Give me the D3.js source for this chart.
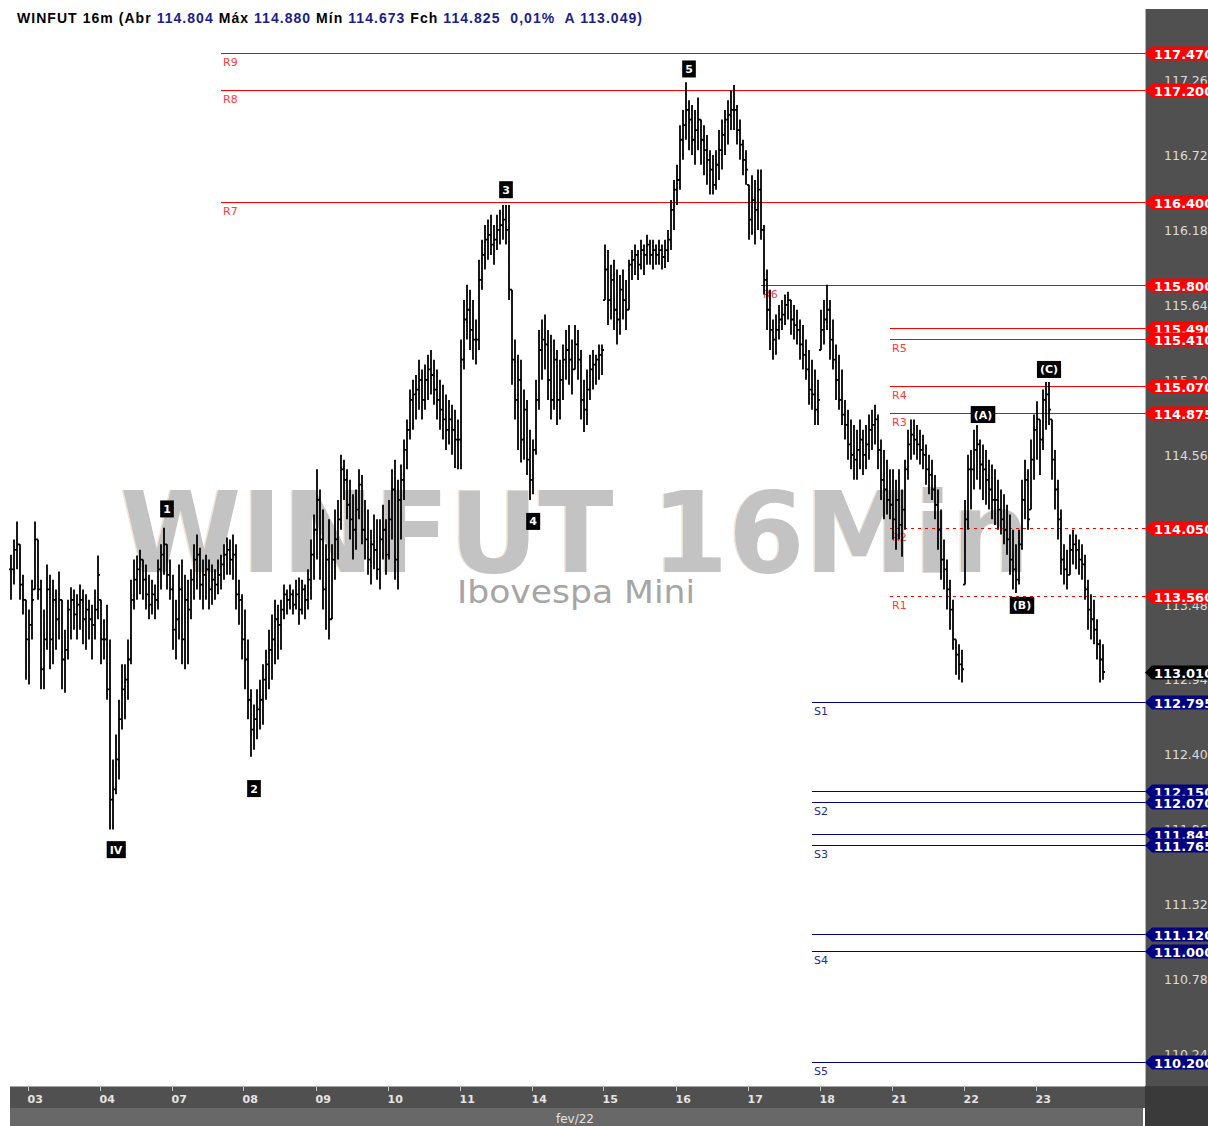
<!DOCTYPE html>
<html>
<head>
<meta charset="utf-8">
<script src="https://cdn.jsdelivr.net/npm/d3@7"></script>
<style>
  body { margin: 0; background: #fff; }
  svg { display: block; }
</style>
</head>
<body>
<div id="chart"></div>
<script>
// 16 minute bars, one array per session: [high, low, close] in points
var d02 = [[113855,113530,113750],[113965,113640,113890],[114095,113750,113930],[113930,113530,113640],[113710,113425,113530],[113530,112955,113245]];
var d03 = [[113460,112920,113350],[113675,113245,113530],[114095,113605,113965],[113965,113530,113605],[113675,112885,113030],[113460,112885,113245],
  [113785,113170,113605],[113710,113030,113245],[113675,113065,113530],[113605,113170,113390],[113735,113245,113530],[113530,112885,113100],
  [113315,112860,113170],[113530,113100,113460],[113620,113245,113530],[113605,113315,113425],[113570,113245,113495],[113640,113315,113530],
  [113605,113210,113390],[113570,113170,113460],[113530,113245,113390],[113495,113100,113350],[113605,113245,113460],[113850,113390,113710]];
var d04 = [[113530,113065,113245],[113390,113100,113245],[113495,112810,112885],[113245,111875,112090],[112380,111875,112165],[112560,112130,112380],
  [112810,112235,112670],[113065,112595,112885],[113065,112670,112955],[113245,112810,113100],[113675,113065,113530],[113820,113460,113675],
  [113850,113530,113750],[113890,113570,113820],[113820,113530,113675],[113785,113460,113570],[113710,113390,113495],[113675,113425,113570],
  [113640,113390,113530],[113820,113460,113750],[113930,113605,113855],[114050,113710,113930],[113930,113605,113710],[113820,113530,113605]];
var d07 = [[113710,113170,113315],[113530,113100,113390],[113785,113245,113605],[113820,113065,113245],[113710,113030,113530],[113675,113065,113460],
  [113750,113390,113675],[113930,113530,113820],[114000,113605,113855],[113905,113530,113640],[113820,113460,113710],[113855,113530,113750],
  [113820,113460,113605],[113785,113495,113675],[113750,113530,113640],[113820,113570,113710],[113855,113605,113785],[113930,113675,113855],
  [113980,113710,113890],[113965,113710,113820],[114000,113675,113855],[113930,113460,113570],[113675,113350,113530],[113570,113100,113245]];
var d08 = [[113460,112885,113100],[113245,112670,112810],[112885,112400,112595],[112775,112450,112670],[112885,112525,112740],[112955,112595,112810],
  [113065,112630,112955],[113170,112810,113065],[113315,112885,113170],[113425,112955,113245],[113530,113065,113390],[113495,113100,113350],
  [113530,113170,113460],[113640,113390,113570],[113605,113425,113530],[113640,113460,113570],[113605,113425,113495],[113675,113460,113570],
  [113690,113350,113460],[113675,113425,113605],[113640,113390,113530],[113750,113460,113675],[113965,113530,113855],[114145,113675,114035]];
var d09 = [[114470,113820,114250],[114325,113675,113965],[114180,113460,113605],[113930,113315,113820],[114110,113245,113390],[113930,113390,113820],
  [114180,113675,113965],[114250,113820,114110],[114575,114035,114470],[114540,114250,114395],[114470,114110,114215],[114395,113965,114110],
  [114290,113820,114035],[114325,113890,114180],[114470,114110,114360],[114430,113930,114035],[114250,113820,113965],[114180,113710,113820],
  [114035,113640,113930],[114145,113750,113890],[114110,113675,113750],[114110,113605,113965],[114215,113820,114035],[114110,113710,113855]];
var d10 = [[114250,113820,114110],[114470,113965,114325],[114540,113675,113820],[114395,113605,114250],[114505,113965,114395],[114685,114250,114610],
  [114830,114470,114755],[115045,114685,114970],[115115,114755,115010],[115150,114830,115045],[115260,114900,115115],[115190,114830,114970],
  [115225,114900,115115],[115295,114970,115190],[115330,115010,115150],[115260,114935,115045],[115190,114830,114970],[115115,114755,114900],
  [115080,114685,114830],[115010,114610,114755],[114970,114650,114830],[114935,114575,114755],[114900,114480,114685],[114830,114470,114685]];
var d11 = [[115405,114470,115260],[115690,115190,115550],[115800,115405,115620],[115765,115330,115475],[115690,115260,115405],[115550,115225,115405],
  [115980,115330,115835],[116125,115765,116015],[116230,115910,116125],[116270,115980,116160],[116305,116015,116090],[116230,115945,116125],
  [116305,116050,116195],[116340,116090,116230],[116375,116125,116270],[116375,116090,116195],[116375,115690,115765],[115765,115080,115260],
  [115405,114830,114970],[115295,114610,115115],[115260,114520,114685],[115045,114540,114900],[114970,114430,114540],[114755,114250,114395]];
var d14 = [[114685,114290,114610],[115115,114575,114970],[115475,114900,115330],[115550,115115,115405],[115585,115190,115370],[115475,114970,115115],
  [115440,114830,114970],[115405,114900,115260],[115330,114790,114970],[115260,114830,115115],[115370,114970,115260],[115475,115115,115330],
  [115510,115080,115260],[115405,115010,115190],[115510,115190,115370],[115475,115115,115260],[115330,114830,114970],[115115,114740,114900],
  [115190,114790,115045],[115295,114970,115190],[115330,115045,115225],[115295,115080,115260],[115370,115115,115295],[115370,115150,115330]];
var d15 = [[116090,115690,115910],[116050,115510,115690],[115945,115550,115835],[115980,115475,115620],[115910,115370,115550],[115870,115440,115765],
  [115910,115550,115690],[115835,115475,115620],[115980,115620,115945],[116050,115835,115980],[116090,115870,116015],[116050,115835,115945],
  [116125,115910,116050],[116090,115870,116015],[116160,115945,116090],[116125,115945,116015],[116125,115910,116050],[116090,115945,116015],
  [116125,115945,116050],[116090,115910,116000],[116125,115920,116050],[116195,115965,116125],[116410,116050,116340],[116555,116195,116485]];
var d16 = [[116665,116375,116555],[116950,116485,116845],[117060,116700,116950],[117260,116845,117060],[117130,116770,116990],[117095,116735,116845],
  [117060,116665,116915],[117150,116770,116990],[116990,116665,116845],[116950,116590,116770],[116880,116520,116700],[116770,116450,116630],
  [116735,116450,116520],[116770,116485,116665],[116915,116555,116770],[116990,116630,116880],[117060,116735,116990],[117130,116810,117025],
  [117200,116915,117060],[117240,116915,117060],[117095,116810,116915],[116990,116700,116810],[116845,116590,116700],[116770,116520,116630]];
var d17 = [[116520,116125,116270],[116590,116160,116410],[116555,116090,116340],[116630,116195,116485],[116630,116125,116195],[116230,115730,115835],
  [115910,115475,115620],[115765,115330,115475],[115550,115260,115405],[115585,115295,115475],[115655,115405,115550],[115690,115475,115585],
  [115730,115510,115655],[115750,115550,115690],[115690,115440,115550],[115655,115405,115510],[115620,115370,115475],[115550,115260,115370],
  [115510,115190,115295],[115405,115115,115190],[115330,114935,115045],[115260,114900,115010],[115190,114790,114900],[115115,114790,114970]];
var d18 = [[115620,115330,115475],[115690,115370,115550],[115800,115475,115620],[115690,115260,115405],[115550,115190,115260],[115370,114970,115115],
  [115295,114900,114970],[115190,114790,114865],[114970,114685,114790],[114900,114540,114650],[114830,114470,114575],[114790,114395,114540],
  [114755,114395,114610],[114830,114470,114685],[114755,114430,114575],[114790,114470,114650],[114865,114540,114755],[114900,114610,114790],
  [114935,114650,114830],[114865,114470,114610],[114685,114250,114395],[114610,114110,114325],[114540,114145,114250],[114470,114110,114215]];
var d21 = [[114470,113965,114110],[114395,113890,114250],[114470,113965,114070],[114325,113840,114180],[114540,114035,114470],[114755,114395,114650],
  [114830,114540,114720],[114830,114575,114685],[114790,114540,114650],[114755,114505,114610],[114720,114470,114575],[114650,114360,114470],
  [114575,114290,114430],[114540,114250,114325],[114430,114110,114215],[114325,113890,114035],[114180,113675,113820],[113965,113605,113750],
  [113820,113460,113605],[113675,113315,113460],[113530,113170,113245],[113245,112990,113135],[113210,112955,113065],[113170,112935,113030]];
var d22 = [[114250,113640,114110],[114575,114035,114470],[114610,114180,114470],[114755,114325,114610],[114790,114395,114650],[114685,114325,114505],
  [114650,114250,114470],[114610,114215,114395],[114540,114180,114325],[114505,114110,114250],[114470,114070,114250],[114395,114035,114180],
  [114325,114000,114110],[114290,113930,114035],[114215,113855,113965],[114145,113710,113820],[114035,113605,113750],[113930,113580,113675],
  [114035,113640,113930],[114395,113890,114250],[114540,114110,114395],[114470,114035,114110],[114685,114180,114540],[114865,114395,114755]];
var d23 = [[114960,114540,114830],[114830,114430,114685],[115045,114610,114970],[115100,114755,115010],[115100,114790,114900],[114830,114395,114540],
  [114610,114180,114325],[114395,113965,114110],[114180,113710,113820],[113930,113640,113750],[113890,113605,113710],[114000,113710,113890],
  [114035,113785,113930],[114000,113750,113890],[113965,113710,113820],[113930,113675,113785],[113855,113530,113605],[113675,113315,113460],
  [113570,113245,113390],[113530,113210,113315],[113390,113100,113210],[113245,112935,113100],[113210,112955,113010]];

var sessions = [d02, d03, d04, d07, d08, d09, d10, d11, d14, d15, d16, d17, d18, d21, d22, d23];
var sessionLabels = ["02", "03", "04", "07", "08", "09", "10", "11", "14", "15", "16", "17", "18", "21", "22", "23"];
var monthLabel = "fev/22";

// pivot levels (points) and the bar where each one starts
var resistNames  = ["R9", "R8", "R7", "R6", "", "R5", "R4", "R3", "R2", "R1"];
var resistPrices = [117470, 117200, 116400, 115800, 115490, 115410, 115070, 114875, 114050, 113560];
var resistFrom   = [70, 70, 70, 250, 293, 293, 293, 293, 293, 293];
var supportNames  = ["S1", "", "S2", "", "S3", "", "S4", "S5"];
var supportPrices = [112795, 112150, 112070, 111845, 111765, 111120, 111000, 110200];
var supportFrom   = [267, 267, 267, 267, 267, 267, 267, 267];
var lastPrice = 113010;

// right axis grid values
var axisTicks = [117269, 116729, 116189, 115649, 115109, 114569, 114029, 113489, 112949, 112409, 111869, 111329, 110789, 110249];

// elliott wave counts: label, bar, price
var waveNames  = ["IV", "1", "2", "3", "4", "5", "(A)", "(B)", "(C)"];
var waveBars   = [35, 52, 81, 165, 174, 226, 324, 337, 346];
var wavePrices = [111730, 114185, 112170, 116485, 114095, 117355, 114865, 113490, 115190];

// header quote
var quoteAbr = 114804, quoteMax = 114880, quoteMin = 114673, quoteFch = 114825, quoteVar = "0,01%", quoteA = 113049;

var W = 1208, H = 1126;
var plotLeft = 10, plotRight = 1145, plotTop = 9, plotBottom = 1086;

var br = d3.formatLocale({decimal: ",", thousands: ".", grouping: [3], currency: ["", ""]});
var fmt = br.format(",d");

// flatten sessions into bars
var bars = [], sessionStart = [];
sessions.forEach(function(s, k) {
  sessionStart.push(bars.length);
  s.forEach(function(b) { bars.push({h: b[0], l: b[1], c: b[2], day: k}); });
});
bars.forEach(function(b, i) {
  var prev = i > 0 ? bars[i - 1].c : b.c;
  b.o = Math.max(b.l, Math.min(b.h, prev));
  b.i = i;
});

var svg = d3.select("#chart").append("svg")
  .attr("width", W)
  .attr("height", H);

var x = d3.scaleLinear()
  .domain([0, bars.length - 1])
  .range([11, 11 + 3 * (bars.length - 1)]);

var y = d3.scaleLinear()
  .domain([110200, 117470])
  .range([1062, 53]);

// watermark
svg.append("text")
  .attr("x", 573.5).attr("y", 572)
  .attr("text-anchor", "middle")
  .attr("textLength", 910).attr("lengthAdjust", "spacingAndGlyphs")
  .style("font-family", "DejaVu Sans").style("font-weight", "bold").style("font-size", "112px")
  .attr("fill", "#f4e4d6")
  .text("WINFUT 16Min");
svg.append("text")
  .attr("x", 575).attr("y", 572)
  .attr("text-anchor", "middle")
  .attr("textLength", 910).attr("lengthAdjust", "spacingAndGlyphs")
  .style("font-family", "DejaVu Sans").style("font-weight", "bold").style("font-size", "112px")
  .attr("fill", "#c3c3c3")
  .text("WINFUT 16Min");
svg.append("text")
  .attr("x", 576).attr("y", 603)
  .attr("text-anchor", "middle")
  .attr("textLength", 238).attr("lengthAdjust", "spacingAndGlyphs")
  .style("font-family", "DejaVu Sans").style("font-size", "32px")
  .attr("fill", "#a6a6a6")
  .text("Ibovespa Mini");

// pivot lines
var levels = [];
resistNames.forEach(function(n, k) { levels.push({name: n, price: resistPrices[k], from: resistFrom[k], kind: "r"}); });
supportNames.forEach(function(n, k) { levels.push({name: n, price: supportPrices[k], from: supportFrom[k], kind: "s"}); });
var dotted = ["R1", "R2"];

var lv = svg.append("g");
lv.selectAll("line")
  .data(levels)
  .enter()
  .append("line")
    .attr("x1", function(d) { return x(d.from); })
    .attr("x2", plotRight)
    .attr("y1", function(d) { return Math.round(y(d.price)) + 0.5; })
    .attr("y2", function(d) { return Math.round(y(d.price)) + 0.5; })
    .attr("stroke", function(d) { return d.kind == "r" ? "#ff0000" : "#000080"; })
    .attr("stroke-width", 1)
    .attr("shape-rendering", "crispEdges")
    .attr("stroke-dasharray", function(d) { return dotted.indexOf(d.name) >= 0 ? "3,4" : null; });
lv.selectAll("text")
  .data(levels.filter(function(d) { return d.name != ""; }))
  .enter()
  .append("text")
    .attr("x", function(d) { return x(d.from) + 2; })
    .attr("y", function(d) { return y(d.price) + 13; })
    .attr("fill", function(d) { return d.kind == "r" ? "#ff3b3b" : "#2c2c90"; })
    .style("font-family", "DejaVu Sans").style("font-size", "11px")
    .text(function(d) { return d.name; });

// bars
var path = "";
bars.forEach(function(b) {
  var px = x(b.i);
  path += "M" + px + "," + y(b.h) + "V" + y(b.l) +
          "M" + (px - 2) + "," + y(b.o) + "H" + px +
          "M" + px + "," + y(b.c) + "H" + (px + 2);
});
svg.append("path")
  .attr("d", path)
  .attr("fill", "none")
  .attr("stroke", "#000")
  .attr("stroke-width", 1.8);

// wave labels
var waves = svg.append("g").selectAll("g")
  .data(waveNames.map(function(n, k) { return {name: n, bar: waveBars[k], price: wavePrices[k]}; }))
  .enter()
  .append("g")
    .attr("transform", function(d) { return "translate(" + x(d.bar) + "," + y(d.price) + ")"; });
waves.append("text")
  .attr("text-anchor", "middle")
  .attr("y", 4)
  .attr("fill", "#fff")
  .style("font-family", "DejaVu Sans").style("font-weight", "bold").style("font-size", "11px")
  .text(function(d) { return d.name; })
  .each(function() {
    var bb = this.getBBox();
    d3.select(this.parentNode).insert("rect", "text")
      .attr("x", bb.x - 3).attr("y", -8.5)
      .attr("width", bb.width + 6).attr("height", 17)
      .attr("fill", "#000");
  });

// right price axis
svg.append("rect")
  .attr("x", plotRight).attr("y", plotTop)
  .attr("width", W - plotRight).attr("height", plotBottom - plotTop)
  .attr("fill", "#505050");
svg.append("line")
  .attr("x1", plotRight + 0.5).attr("x2", plotRight + 0.5)
  .attr("y1", plotTop).attr("y2", plotBottom)
  .attr("stroke", "#b4b4b4");
svg.append("g").selectAll("text")
  .data(axisTicks)
  .enter()
  .append("text")
    .attr("x", 1164)
    .attr("y", function(d) { return y(d) + 4; })
    .attr("fill", "#dcdcdc")
    .style("font-family", "DejaVu Sans").style("font-size", "12.5px")
    .text(function(d) { return fmt(d); });

// price tags
var tags = levels.map(function(d) { return {price: d.price, fill: d.kind == "r" ? "#ff0000" : "#000080"}; });
tags.push({price: lastPrice, fill: "#000"});
tags.sort(function(a, b) { return b.price - a.price; });
var tg = svg.append("g").selectAll("g")
  .data(tags)
  .enter()
  .append("g")
    .attr("transform", function(d) { return "translate(" + plotRight + "," + Math.round(y(d.price)) + ")"; });
tg.append("path")
  .attr("d", "M0,0.5L7,-6.5H70V7.5H7Z")
  .attr("fill", function(d) { return d.fill; });
tg.append("text")
  .attr("x", 9).attr("y", 5.5)
  .attr("fill", "#fff")
  .style("font-family", "DejaVu Sans").style("font-weight", "bold").style("font-size", "13px")
  .text(function(d) { return fmt(d.price); });

// time axis
svg.append("rect")
  .attr("x", plotLeft).attr("y", plotBottom)
  .attr("width", plotRight - plotLeft).attr("height", 22)
  .attr("fill", "#505050");
svg.append("line")
  .attr("x1", plotLeft).attr("x2", plotRight)
  .attr("y1", plotBottom + 0.5).attr("y2", plotBottom + 0.5)
  .attr("stroke", "#a8a8a8");
svg.append("rect")
  .attr("x", plotLeft).attr("y", plotBottom + 22)
  .attr("width", plotRight - plotLeft - 2).attr("height", H - plotBottom - 22)
  .attr("fill", "#686868");
svg.append("rect")
  .attr("x", plotRight).attr("y", plotBottom)
  .attr("width", W - plotRight).attr("height", H - plotBottom)
  .attr("fill", "#3a3a3a");

var ticks = svg.append("g").selectAll("g")
  .data(sessionLabels.slice(1).map(function(l, k) { return {label: l, start: sessionStart[k + 1]}; }))
  .enter()
  .append("g")
    .attr("transform", function(d) { return "translate(" + (Math.round(x(d.start) - 1.5) + 0.5) + "," + plotBottom + ")"; });
ticks.append("line")
  .attr("y1", 1).attr("y2", 5)
  .attr("stroke", "#c8c8c8");
ticks.append("text")
  .attr("x", -1).attr("y", 17)
  .attr("fill", "#e4e4e4")
  .style("font-family", "DejaVu Sans").style("font-weight", "bold").style("font-size", "11px")
  .text(function(d) { return d.label; });

svg.append("text")
  .attr("x", 575).attr("y", 1123)
  .attr("text-anchor", "middle")
  .attr("fill", "#e4e4e4")
  .style("font-family", "DejaVu Sans").style("font-size", "12px")
  .text(monthLabel);

// header
var navy = "#1d1d8a";
var title = svg.append("text")
  .attr("x", 17).attr("y", 23)
  .attr("textLength", 625).attr("lengthAdjust", "spacing")
  .style("font-family", "Liberation Sans").style("font-weight", "bold").style("font-size", "14px")
  .style("white-space", "pre");
[["WINFUT 16m (Abr ", "#000"], [fmt(quoteAbr), navy], [" Máx ", "#000"], [fmt(quoteMax), navy],
 [" Mín ", "#000"], [fmt(quoteMin), navy], [" Fch ", "#000"],
 [fmt(quoteFch) + "  " + quoteVar + "  A " + fmt(quoteA) + ")", navy]].forEach(function(p) {
  title.append("tspan").attr("fill", p[1]).text(p[0]);
});
</script>
</body>
</html>
